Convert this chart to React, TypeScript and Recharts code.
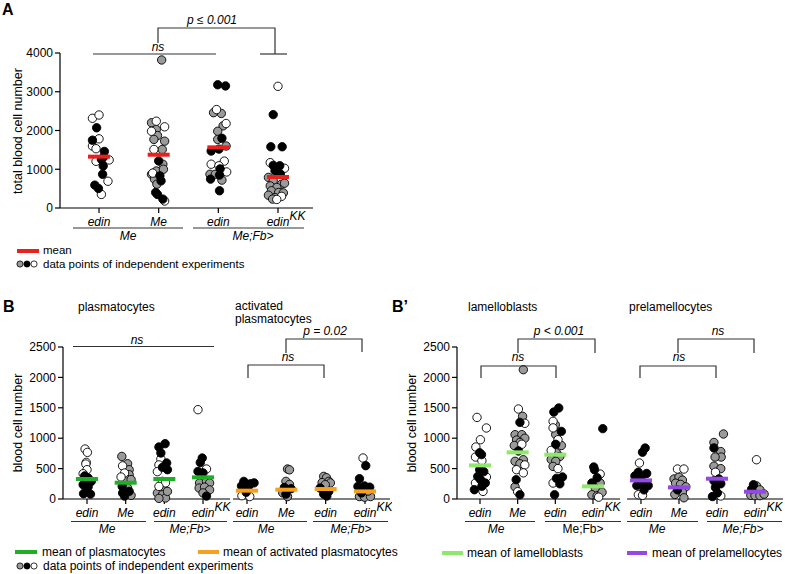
import React from "react";
import { ScatterChart, Scatter, XAxis, YAxis } from "recharts";

// each point: [horizontal jitter in category widths, cell count, experiment (w = white, b = black, g = grey)]
type Kind = "w" | "b" | "g";
type Pt = [number, number, Kind];

const catLabels = ["edin", "Me", "edin", "edinKK"];

// A: total blood cell number
const totalTicks = [0, 1000, 2000, 3000, 4000];
const totalMeans = [1325, 1375, 1565, 800];
const totalEdin: Pt[] = [
  [-0.11, 2315, "w"], [0, 2400, "w"], [-0.04, 2070, "b"], [-0.11, 1750, "b"], [0, 1785, "w"],
  [-0.11, 1600, "w"], [-0.05, 1530, "w"], [0.09, 1460, "b"], [-0.05, 1205, "w"], [0.04, 1255, "b"],
  [0.17, 1240, "w"], [0.07, 1085, "b"], [0.06, 870, "b"], [0.15, 690, "w"], [-0.07, 590, "b"],
  [-0.01, 505, "b"], [0.04, 350, "w"], [0.08, 1320, "b"],
];
const totalMe: Pt[] = [
  [0.05, 3820, "g"], [-0.04, 2240, "w"], [-0.12, 2200, "g"], [0.1, 2095, "w"], [-0.12, 1980, "w"],
  [-0.04, 2025, "g"], [-0.02, 1870, "g"], [-0.08, 1770, "g"], [0.1, 1725, "g"], [-0.08, 1510, "w"],
  [0.06, 1510, "g"], [0, 1215, "b"], [0.07, 1130, "g"], [-0.12, 870, "g"], [-0.04, 955, "g"],
  [0.02, 830, "b"], [-0.07, 745, "g"], [-0.03, 615, "g"], [0.04, 700, "b"], [-0.05, 400, "b"],
  [-0.02, 350, "b"], [0.07, 230, "b"], [0.1, 180, "w"], [-0.1, 900, "w"], [0.08, 1000, "g"],
];
const totalFbEdin: Pt[] = [
  [-0.01, 3180, "b"], [0.12, 3150, "b"], [-0.03, 2540, "w"], [-0.08, 2460, "g"], [0.05, 2440, "g"],
  [0.13, 2180, "w"], [0.08, 2120, "g"], [-0.01, 1980, "g"], [0.06, 1800, "b"], [-0.01, 1770, "g"],
  [0.13, 1600, "g"], [-0.12, 1470, "b"], [0.01, 1520, "b"], [0.1, 1210, "w"], [-0.12, 1130, "w"],
  [0.01, 1090, "w"], [0.03, 1010, "b"], [0.14, 930, "w"], [-0.14, 870, "g"], [-0.05, 870, "g"],
  [0.02, 850, "b"], [-0.13, 745, "b"], [0.06, 720, "g"], [0.02, 445, "b"],
];
const totalFbKK: Pt[] = [
  [0, 3140, "w"], [-0.08, 2410, "b"], [-0.12, 1580, "b"], [0.07, 1580, "b"], [-0.13, 1170, "w"],
  [-0.08, 1100, "b"], [0.03, 1090, "b"], [0.11, 1025, "w"], [-0.05, 960, "b"], [0.04, 880, "b"],
  [-0.16, 790, "g"], [-0.08, 700, "g"], [0.06, 615, "g"], [-0.13, 570, "g"], [-0.02, 530, "g"],
  [0.11, 640, "g"], [-0.11, 445, "g"], [0.01, 400, "g"], [0.09, 390, "g"], [-0.16, 330, "g"],
  [-0.05, 270, "g"], [0.06, 300, "w"], [-0.09, 230, "g"], [-0.02, 220, "w"],
];

// B: plasmatocytes / activated plasmatocytes
const cellTicks = [0, 500, 1000, 1500, 2000, 2500];
const plasmaMeans = [329, 268, 329, 356];
const plasmaEdin: Pt[] = [
  [-0.05, 822, "w"], [0.01, 767, "w"], [-0.02, 602, "w"], [-0.03, 575, "w"], [0, 482, "w"],
  [-0.1, 416, "w"], [-0.06, 380, "b"], [0.03, 345, "b"], [0.11, 290, "b"], [-0.1, 235, "b"],
  [0.03, 200, "b"], [-0.09, 87, "b"], [0.09, 80, "b"], [-0.02, 130, "b"],
];
const plasmaMe: Pt[] = [
  [-0.1, 700, "g"], [0.05, 580, "g"], [-0.08, 545, "w"], [0.09, 482, "g"], [-0.03, 427, "w"],
  [0.09, 400, "g"], [-0.12, 362, "w"], [0.01, 330, "g"], [0.14, 320, "g"], [-0.09, 207, "b"],
  [0.05, 180, "g"], [0.09, 125, "b"], [-0.08, 98, "b"], [-0.03, 48, "b"], [0.14, 60, "g"],
];
const plasmaFbEdin: Pt[] = [
  [-0.14, 855, "b"], [0.02, 910, "b"], [-0.09, 757, "b"], [-0.09, 658, "w"], [0.06, 592, "b"],
  [-0.14, 560, "w"], [-0.05, 520, "b"], [0.08, 482, "b"], [-0.18, 450, "w"], [-0.05, 290, "w"],
  [0.03, 265, "w"], [-0.14, 207, "w"], [-0.01, 150, "g"], [-0.18, 98, "g"], [-0.05, 70, "g"],
  [0.03, 16, "g"], [-0.14, 10, "g"], [0.08, 125, "g"],
];
const plasmaFbKK: Pt[] = [
  [-0.13, 1469, "w"], [-0.02, 674, "b"], [-0.07, 600, "b"], [0.09, 493, "w"], [-0.13, 454, "b"],
  [0, 430, "b"], [-0.09, 263, "g"], [0.09, 290, "g"], [0.17, 263, "g"], [-0.1, 180, "g"],
  [0.04, 195, "g"], [0.17, 150, "g"], [0, 100, "g"], [0.09, 48, "b"],
];
const actMeans = [137, 153, 164, 125];
const actEdin: Pt[] = [
  [-0.08, 290, "b"], [0.09, 250, "b"], [0.18, 265, "b"], [-0.14, 215, "b"], [0.03, 200, "b"],
  [-0.13, 54, "w"], [0.07, 40, "w"], [-0.02, 110, "b"],
];
const actMe: Pt[] = [
  [0.03, 493, "g"], [0.08, 480, "g"], [-0.01, 290, "g"], [0.08, 240, "g"], [-0.05, 190, "b"],
  [0.12, 170, "b"], [-0.01, 80, "b"], [0.03, 40, "g"], [-0.09, 100, "g"],
];
const actFbEdin: Pt[] = [
  [-0.05, 372, "g"], [0.02, 350, "g"], [0.08, 290, "g"], [-0.09, 270, "g"], [0.12, 265, "g"],
  [-0.01, 235, "g"], [-0.14, 180, "b"], [0.08, 125, "b"], [-0.05, 80, "b"], [0.03, 50, "b"],
];
const actFbKK: Pt[] = [
  [-0.05, 674, "w"], [0.02, 548, "b"], [-0.14, 334, "b"], [-0.18, 207, "b"], [-0.01, 215, "b"],
  [0.12, 195, "b"], [-0.14, 40, "g"], [-0.01, 30, "g"], [0.14, 40, "g"], [-0.09, 100, "b"],
  [0.08, 130, "g"],
];

// B': lamelloblasts / prelamellocytes
const lamMeans = [553, 767, 729, 208];
const lamEdin: Pt[] = [
  [-0.08, 1342, "w"], [0.17, 1168, "w"], [0.01, 975, "w"], [-0.11, 855, "w"], [-0.01, 760, "b"],
  [0.04, 730, "b"], [-0.12, 690, "w"], [0.05, 630, "w"], [-0.01, 482, "b"], [0.1, 450, "b"],
  [0.17, 362, "w"], [-0.06, 370, "b"], [0.01, 320, "b"], [-0.12, 263, "w"], [0.14, 263, "b"],
  [0.05, 210, "b"], [-0.15, 153, "b"], [0.08, 125, "w"],
];
const lamMe: Pt[] = [
  [0.15, 2127, "g"], [0.02, 1480, "w"], [0.13, 1360, "g"], [0.06, 1260, "b"], [0.19, 1245, "w"],
  [-0.07, 1058, "g"], [0.11, 1058, "g"], [0.19, 1000, "g"], [-0.03, 970, "g"], [0.06, 930, "g"],
  [0.11, 900, "w"], [-0.09, 880, "g"], [0.02, 790, "b"], [0.15, 646, "g"], [-0.07, 620, "g"],
  [0.06, 580, "g"], [0.19, 560, "w"], [-0.03, 482, "w"], [0.15, 430, "w"], [-0.04, 318, "b"],
  [-0.07, 200, "g"], [0, 120, "w"], [0.06, 70, "b"],
];
const lamFbEdin: Pt[] = [
  [0.09, 1497, "b"], [-0.04, 1430, "b"], [-0.06, 1277, "w"], [0, 1220, "g"], [-0.06, 1170, "w"],
  [0.16, 1112, "b"], [0.01, 1060, "g"], [0.07, 975, "w"], [0.01, 900, "b"], [0.16, 880, "g"],
  [-0.11, 800, "w"], [0.03, 760, "g"], [0.12, 700, "g"], [-0.11, 650, "g"], [0.01, 620, "g"],
  [-0.06, 536, "g"], [0.07, 500, "w"], [0.19, 362, "b"], [0.03, 340, "b"], [-0.06, 263, "w"],
  [0.12, 250, "b"], [-0.02, 70, "b"],
];
const lamFbKK: Pt[] = [
  [0.26, 1157, "b"], [0.02, 526, "b"], [0.04, 480, "b"], [0.19, 410, "w"], [0.11, 350, "b"],
  [-0.03, 263, "b"], [0.19, 263, "g"], [0.06, 180, "g"], [-0.03, 70, "g"], [0.11, 50, "g"],
  [0.24, 110, "g"], [0.15, 30, "w"],
];
const preMeans = [306, 191, 334, 120];
const preEdin: Pt[] = [
  [0.11, 838, "b"], [0.04, 770, "b"], [-0.04, 592, "w"], [-0.07, 440, "b"], [0.15, 420, "b"],
  [-0.16, 380, "b"], [0.06, 263, "b"], [-0.11, 220, "b"], [0.19, 220, "b"], [-0.07, 70, "w"],
  [0.04, 60, "w"], [0, 330, "b"], [0.08, 150, "b"],
];
const preMe: Pt[] = [
  [-0.04, 493, "w"], [0.13, 493, "w"], [-0.13, 329, "g"], [0, 360, "g"], [0.09, 310, "g"],
  [-0.09, 260, "g"], [0.04, 240, "g"], [0.18, 200, "g"], [-0.04, 150, "b"], [0.09, 110, "g"],
  [-0.11, 75, "g"], [0.13, 20, "g"],
];
const preFbEdin: Pt[] = [
  [0.17, 1069, "g"], [-0.08, 930, "g"], [-0.08, 840, "b"], [0.1, 780, "g"], [0.11, 690, "g"],
  [-0.05, 690, "g"], [-0.08, 540, "g"], [0.1, 500, "g"], [-0.04, 440, "w"], [0.05, 330, "b"],
  [-0.08, 300, "b"], [0.1, 250, "b"], [-0.04, 190, "b"], [-0.12, 40, "b"], [0.1, 50, "w"],
  [0.01, 100, "b"],
];
const preFbKK: Pt[] = [
  [0.04, 646, "w"], [-0.04, 235, "b"], [0.04, 215, "g"], [-0.09, 160, "b"], [0.13, 150, "g"],
  [-0.11, 60, "g"], [0, 55, "g"], [0.13, 55, "g"], [0.24, 80, "g"],
];

const FONT = '"Liberation Sans", Arial, Helvetica, sans-serif';
const FILLS: Record<Kind, string> = { g: "#9a9a9a", w: "#ffffff", b: "#000000" };
const RED = "#e8211d";
const GREEN = "#1fae26";
const ORANGE = "#f5a01e";
const LIGHTGREEN = "#8fe86c";
const PURPLE = "#9449e6";
const LINE = "#333";

function CatTick(props: any) {
  const { x, y, payload } = props;
  const label = catLabels[payload.value - 1];
  const kk = label.endsWith("KK");
  return (
    <g>
      <text x={x} y={y + 11} textAnchor="middle" fontStyle="italic" fontSize={12} fill="#000">
        {kk ? "edin" : label}
      </text>
      {kk && (
        <text x={x + 11.5} y={y + 5} fontStyle="italic" fontSize={12} fill="#000">
          KK
        </text>
      )}
    </g>
  );
}

interface PanelProps {
  left: number;
  top: number;
  width: number;
  height: number;
  marginTop: number;
  marginLeft: number;
  showY: boolean;
  yMax: number;
  yTicks: number[];
  domain: [number, number];
  groups: Pt[][];
  means: number[];
  meanColor: string;
}

function Panel(p: PanelProps) {
  const ptsOf = (k: Kind) =>
    p.groups.flatMap((g, i) =>
      g.filter((d) => d[2] === k).map((d) => ({ x: i + 1 + d[0], y: d[1] }))
    );
  const meanData = p.means.map((m, i) => ({ x: i + 1, y: m }));
  return (
    <div style={{ position: "absolute", left: p.left, top: p.top }}>
      <ScatterChart
        width={p.width}
        height={p.height}
        margin={{ top: p.marginTop, right: 2, bottom: 0, left: p.marginLeft }}
      >
        <XAxis
          type="number"
          dataKey="x"
          domain={p.domain}
          ticks={[1, 2, 3, 4]}
          interval={0}
          height={30}
          tickSize={5}
          tickMargin={2}
          axisLine={{ stroke: "#000", strokeWidth: 1.2 }}
          tickLine={{ stroke: "#000", strokeWidth: 1.2 }}
          tick={CatTick}
        />
        <YAxis
          type="number"
          dataKey="y"
          domain={[0, p.yMax]}
          ticks={p.yTicks}
          interval={0}
          hide={!p.showY}
          width={53}
          tickSize={5}
          tickMargin={2}
          axisLine={{ stroke: "#000", strokeWidth: 1.2 }}
          tickLine={{ stroke: "#000", strokeWidth: 1.2 }}
          tick={{ fontSize: 12, fill: "#000" }}
        />
        {(["g", "w", "b"] as Kind[]).map((k) => (
          <Scatter
            key={k}
            data={ptsOf(k)}
            isAnimationActive={false}
            shape={(s: any) => (
              <circle cx={s.cx} cy={s.cy} r={4.2} fill={FILLS[k]} stroke="#000" strokeWidth={0.9} />
            )}
          />
        ))}
        <Scatter
          data={meanData}
          isAnimationActive={false}
          shape={(s: any) => (
            <rect x={s.cx - 11} y={s.cy - 2} width={22} height={4} fill={p.meanColor} />
          )}
        />
      </ScatterChart>
    </div>
  );
}

function Bracket({ x1, x2, y, y1, y2 }: { x1: number; x2: number; y: number; y1: number; y2: number }) {
  return (
    <polyline
      points={`${x1},${y1} ${x1},${y} ${x2},${y} ${x2},${y2}`}
      fill="none"
      stroke={LINE}
      strokeWidth={1.2}
    />
  );
}

function Dots({ y }: { y: number }) {
  return (
    <g>
      <circle cx={20} cy={y} r={3.1} fill={FILLS.g} stroke="#000" strokeWidth={0.8} />
      <circle cx={27} cy={y} r={3.1} fill={FILLS.b} stroke="#000" strokeWidth={0.8} />
      <circle cx={34} cy={y} r={3.1} fill={FILLS.w} stroke="#000" strokeWidth={0.8} />
    </g>
  );
}

function Groups({ y, items }: { y: number; items: [number, number, number, string, boolean][] }) {
  return (
    <g>
      {items.map(([a, b, c, t, it], i) => (
        <g key={i}>
          <line x1={a} x2={b} y1={y} y2={y} stroke={LINE} strokeWidth={1.2} />
          <text x={c} y={y + 11.5} textAnchor="middle" fontSize={12} fontStyle={it ? "italic" : "normal"}>
            {t}
          </text>
        </g>
      ))}
    </g>
  );
}

export default function App() {
  return (
    <div
      style={{
        position: "absolute",
        left: 0,
        top: 0,
        width: 785,
        height: 574,
        background: "#fff",
        fontFamily: FONT,
        color: "#000",
      }}
    >
      <Panel
        left={0} top={0} width={315} height={238} marginTop={53} marginLeft={7}
        showY yMax={4000} yTicks={totalTicks} domain={[0.346, 4.587]}
        groups={[totalEdin, totalMe, totalFbEdin, totalFbKK]} means={totalMeans} meanColor={RED}
      />
      <Panel
        left={0} top={300} width={232} height={229} marginTop={47} marginLeft={10}
        showY yMax={2500} yTicks={cellTicks} domain={[0.379, 4.698]}
        groups={[plasmaEdin, plasmaMe, plasmaFbEdin, plasmaFbKK]} means={plasmaMeans} meanColor={GREEN}
      />
      <Panel
        left={233} top={300} width={159} height={229} marginTop={47} marginLeft={0}
        showY={false} yMax={2500} yTicks={cellTicks} domain={[0.644, 4.636]}
        groups={[actEdin, actMe, actFbEdin, actFbKK]} means={actMeans} meanColor={ORANGE}
      />
      <Panel
        left={390} top={300} width={232} height={229} marginTop={47} marginLeft={14}
        showY yMax={2500} yTicks={cellTicks} domain={[0.389, 4.717]}
        groups={[lamEdin, lamMe, lamFbEdin, lamFbKK]} means={lamMeans} meanColor={LIGHTGREEN}
      />
      <Panel
        left={627} top={300} width={158} height={229} marginTop={47} marginLeft={0}
        showY={false} yMax={2500} yTicks={cellTicks} domain={[0.632, 4.737]}
        groups={[preEdin, preMe, preFbEdin, preFbKK]} means={preMeans} meanColor={PURPLE}
      />
      <svg
        width={785}
        height={574}
        style={{ position: "absolute", left: 0, top: 0, pointerEvents: "none" }}
        fontFamily={FONT}
      >
        {/* panel A */}
        <text x={2} y={15} fontSize={16} fontWeight="bold">A</text>
        <text x={212} y={24} fontSize={12} fontStyle="italic" textAnchor="middle">p ≤ 0.001</text>
        <Bracket x1={158} x2={275} y={28} y1={43} y2={54} />
        <line x1={260} x2={287} y1={54} y2={54} stroke={LINE} strokeWidth={1.2} />
        <line x1={93} x2={216} y1={54} y2={54} stroke={LINE} strokeWidth={1.2} />
        <text x={158} y={51} fontSize={12} fontStyle="italic" textAnchor="middle">ns</text>
        <text transform="translate(22,131) rotate(-90)" fontSize={12.5} textAnchor="middle">
          total blood cell number
        </text>
        <Groups y={228} items={[[73, 183, 128, "Me", true], [193, 304, 253, "Me;Fb>", true]]} />
        <rect x={17} y={249} width={22} height={4} fill={RED} />
        <text x={43} y={254} fontSize={11.5}>mean</text>
        <Dots y={264} />
        <text x={43} y={268} fontSize={11.5}>data points of independent experiments</text>

        {/* panel B */}
        <text x={3} y={312} fontSize={16} fontWeight="bold">B</text>
        <text x={78} y={311} fontSize={12}>plasmatocytes</text>
        <text x={235} y={310} fontSize={12}>activated</text>
        <text x={235} y={323} fontSize={12}>plasmatocytes</text>
        <line x1={73} x2={214} y1={346.5} y2={346.5} stroke={LINE} strokeWidth={1.2} />
        <text x={137} y={344} fontSize={12} fontStyle="italic" textAnchor="middle">ns</text>
        <Bracket x1={248} x2={324} y={365} y1={378} y2={378} />
        <text x={288} y={361} fontSize={12} fontStyle="italic" textAnchor="middle">ns</text>
        <Bracket x1={286} x2={362} y={339} y1={353} y2={352} />
        <text x={325} y={335} fontSize={12} fontStyle="italic" textAnchor="middle">p = 0.02</text>
        <text transform="translate(22,423) rotate(-90)" fontSize={12.5} textAnchor="middle">
          blood cell number
        </text>
        <Groups
          y={521.5}
          items={[
            [71, 146, 107, "Me", true],
            [154, 227, 190, "Me;Fb>", true],
            [233, 307, 266, "Me", true],
            [313, 388, 351, "Me;Fb>", true],
          ]}
        />
        <rect x={15} y={550} width={22} height={4} fill={GREEN} />
        <text x={42} y={556} fontSize={12}>mean of plasmatocytes</text>
        <rect x={198} y={550} width={21} height={4} fill={ORANGE} />
        <text x={223} y={556} fontSize={12}>mean of activated plasmatocytes</text>
        <Dots y={566} />
        <text x={43} y={570} fontSize={12}>data points of independent experiments</text>

        {/* panel B' */}
        <text x={392} y={312} fontSize={16} fontWeight="bold">B’</text>
        <text x={468} y={311} fontSize={12}>lamelloblasts</text>
        <text x={629} y={311} fontSize={12}>prelamellocytes</text>
        <Bracket x1={518} x2={595} y={339} y1={353} y2={353} />
        <text x={559} y={335} fontSize={12} fontStyle="italic" textAnchor="middle">p &lt; 0.001</text>
        <Bracket x1={481} x2={556} y={366} y1={378} y2={378} />
        <text x={518} y={361} fontSize={12} fontStyle="italic" textAnchor="middle">ns</text>
        <Bracket x1={678} x2={754} y={339} y1={353} y2={353} />
        <text x={718} y={335} fontSize={12} fontStyle="italic" textAnchor="middle">ns</text>
        <Bracket x1={640} x2={716} y={366} y1={378} y2={378} />
        <text x={679} y={361} fontSize={12} fontStyle="italic" textAnchor="middle">ns</text>
        <text transform="translate(416,423) rotate(-90)" fontSize={12.5} textAnchor="middle">
          blood cell number
        </text>
        <Groups
          y={521.5}
          items={[
            [465, 535, 496, "Me", true],
            [545, 621, 583, "Me;Fb>", false],
            [627, 698, 657, "Me", true],
            [707, 782, 743, "Me;Fb>", true],
          ]}
        />
        <rect x={442} y={551} width={21} height={4} fill={LIGHTGREEN} />
        <text x={467} y={557} fontSize={12}>mean of lamelloblasts</text>
        <rect x={627} y={551} width={20} height={4} fill={PURPLE} />
        <text x={652} y={557} fontSize={12}>mean of prelamellocytes</text>
      </svg>
    </div>
  );
}
